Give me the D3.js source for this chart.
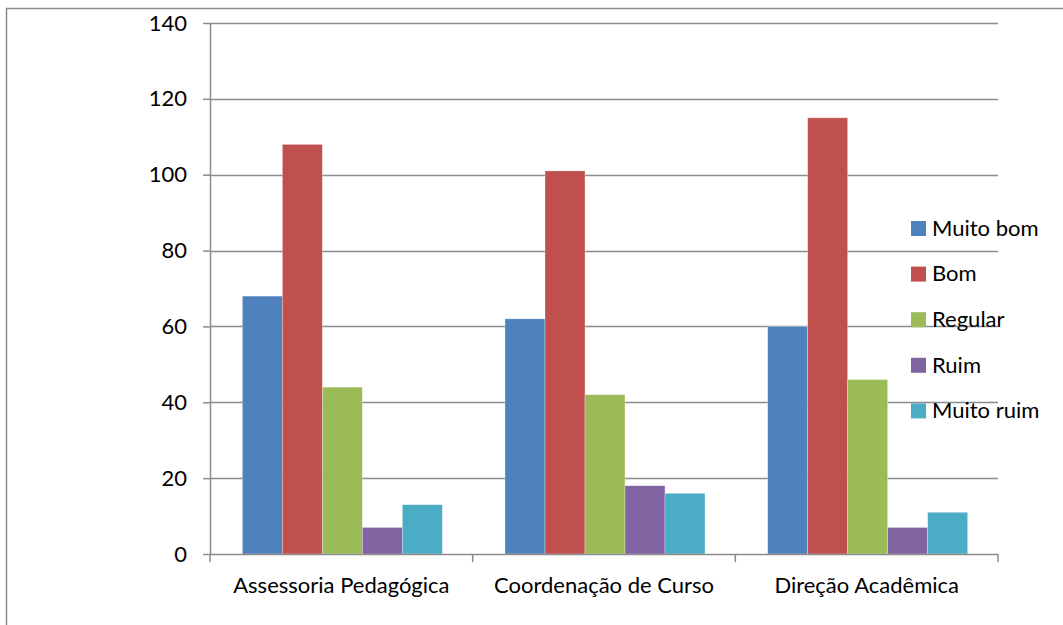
<!DOCTYPE html>
<html lang="pt">
<head>
<meta charset="utf-8">
<script src="https://cdnjs.cloudflare.com/ajax/libs/d3/7.8.5/d3.min.js"></script>
<style>
	body { margin: 0; background: #fff; }
	text { font-family: Lato, "Open Sans", sans-serif; fill: #000; }
</style>
</head>
<body>
<div id="chart"></div>
<script>
// data
var categories = ["Assessoria Pedagógica", "Coordenação de Curso", "Direção Acadêmica"];
var seriesNames = ["Muito bom", "Bom", "Regular", "Ruim", "Muito ruim"];
var muitoBom = [68, 62, 60];
var bom = [108, 101, 115];
var regular = [44, 42, 46];
var ruim = [7, 18, 7];
var muitoRuim = [13, 16, 11];
var yTicks = [0, 20, 40, 60, 80, 100, 120, 140];

var colors = ["#4f81bd", "#c0504d", "#9bbb59", "#8064a2", "#4bacc6"];
var seriesValues = [muitoBom, bom, regular, ruim, muitoRuim];

var width = 1063, height = 625;
var plotLeft = 210, plotRight = 998, plotTop = 23, plotBottom = 554;
var fontSize = "22px";

var svg = d3.select("#chart").append("svg")
	.attr("width", width)
	.attr("height", height);

// outer frame
svg.append("rect")
	.attr("x", 6.5).attr("y", 8.5)
	.attr("width", 1100).attr("height", 700)
	.attr("fill", "none")
	.attr("stroke", "#8c8c8c")
	.attr("stroke-width", 1.5);

var x0 = d3.scaleBand().domain(categories).range([plotLeft, plotRight]);
var x1 = d3.scaleBand().domain(seriesNames).range([0, 200]);
var y = d3.scaleLinear().domain([0, 140]).range([plotBottom, plotTop]);

// gridlines
svg.append("g").selectAll("line")
	.data(yTicks.filter(function(d){ return d > 0; }))
	.enter().append("line")
	.attr("x1", plotLeft).attr("x2", plotRight)
	.attr("y1", function(d){ return Math.round(y(d)) + 0.5; })
	.attr("y2", function(d){ return Math.round(y(d)) + 0.5; })
	.attr("stroke", "#8c8c8c")
	.attr("stroke-width", 1.5);

// bars
var groups = svg.append("g").selectAll("g")
	.data(categories)
	.enter().append("g")
	.attr("transform", function(d){ return "translate(" + (x0(d) + (x0.bandwidth() - 200) / 2 + 1) + ",0)"; });

groups.selectAll("rect")
	.data(function(d, i){ return seriesNames.map(function(s, j){ return {s: s, v: seriesValues[j][i], c: colors[j]}; }); })
	.enter().append("rect")
	.attr("x", function(d){ return x1(d.s); })
	.attr("width", x1.bandwidth())
	.attr("y", function(d){ return y(d.v); })
	.attr("height", function(d){ return plotBottom - y(d.v); })
	.attr("fill", function(d){ return d.c; })
	.attr("stroke", "#fff")
	.attr("stroke-opacity", 0.5)
	.attr("stroke-width", 0.6);

// y axis
var yAxis = svg.append("g")
	.attr("transform", "translate(" + plotLeft + ",0)")
	.call(d3.axisLeft(y).tickValues(yTicks).tickSize(7).tickPadding(16).tickFormat(d3.format("d")));
yAxis.selectAll("text").style("font-size", fontSize);

// x axis
var xAxis = svg.append("g")
	.attr("transform", "translate(0," + plotBottom + ")")
	.call(d3.axisBottom(x0).tickSize(0).tickPadding(23));
xAxis.selectAll("text").style("font-size", fontSize);
xAxis.selectAll(".sep")
	.data(d3.range(categories.length + 1))
	.enter().append("line")
	.attr("x1", function(i){ return plotLeft + i * x0.bandwidth(); })
	.attr("x2", function(i){ return plotLeft + i * x0.bandwidth(); })
	.attr("y1", 0).attr("y2", 8)
	.attr("stroke", "#8c8c8c").attr("stroke-width", 1.5);

svg.selectAll(".domain").attr("stroke", "#8c8c8c").attr("stroke-width", 1.5);
svg.selectAll(".tick line").attr("stroke", "#8c8c8c").attr("stroke-width", 1.5);
xAxis.select(".domain").attr("d", "M" + plotLeft + ",0.5H" + plotRight);
yAxis.select(".domain").attr("d", "M0.5," + plotTop + "V" + plotBottom);

// legend
var legend = svg.append("g").attr("transform", "translate(911,228)");
var item = legend.selectAll("g")
	.data(seriesNames)
	.enter().append("g")
	.attr("transform", function(d, i){ return "translate(0," + (i * 45.6) + ")"; });
item.append("rect")
	.attr("x", 0).attr("y", -7)
	.attr("width", 15).attr("height", 15)
	.attr("fill", function(d, i){ return colors[i]; });
item.append("text")
	.attr("x", 21).attr("y", 0)
	.attr("dy", "0.35em")
	.style("font-size", fontSize)
	.text(function(d){ return d; });
</script>
</body>
</html>
